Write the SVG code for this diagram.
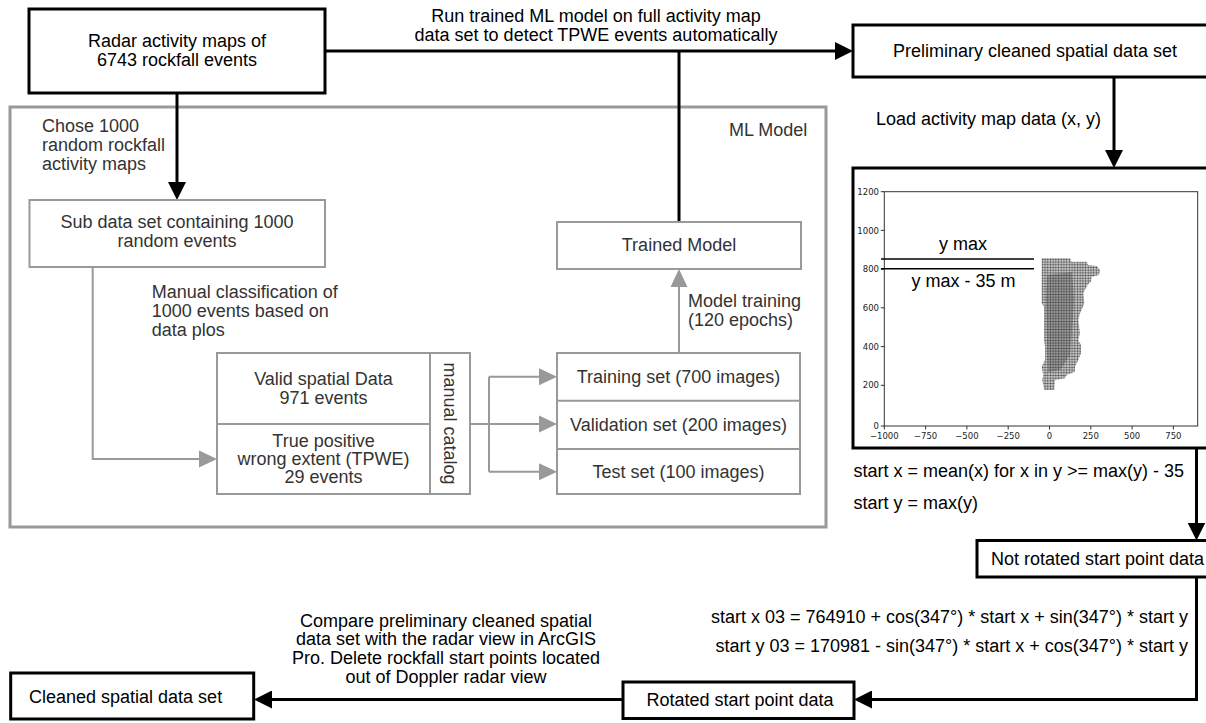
<svg xmlns="http://www.w3.org/2000/svg" width="1206" height="723" viewBox="0 0 1206 723">
<style>
  text { font-family: "Liberation Sans", Arial, sans-serif; font-size: 18px; fill: #000; }
  .g { fill: #333; }
  .bk { fill: #fff; stroke: #000; stroke-width: 3; }
  .gy { fill: #fff; stroke: #999; stroke-width: 2; }
  .cb { fill: none; stroke: #000; stroke-width: 3; }
  .cg { fill: none; stroke: #999; stroke-width: 2; }
  .tk { font-family: "DejaVu Sans", sans-serif; font-size: 8.5px; fill: #222; }
  .ax { fill: none; stroke: #333; stroke-width: 1; }
</style>
<defs>
  <marker id="ab" markerUnits="userSpaceOnUse" markerWidth="18" markerHeight="18" refX="14" refY="9" orient="auto">
    <path d="M0,0 L18,9 L0,18 z" fill="#000"/>
  </marker>
  <marker id="ag" markerUnits="userSpaceOnUse" markerWidth="18" markerHeight="18" refX="14" refY="9" orient="auto">
    <path d="M0,0.5 L18,9 L0,17.5 z" fill="#999"/>
  </marker>
  <pattern id="dots" patternUnits="userSpaceOnUse" x="1041" y="258" width="2.7" height="2.7">
    <rect width="2.7" height="2.7" fill="#d0d0d0"/>
    <circle cx="1.35" cy="1.35" r="0.95" fill="#3a3a3a"/>
  </pattern>
</defs>
<rect width="1206" height="723" fill="#fff"/>

<g id="ml-model">
  <rect x="10" y="107" width="816" height="420" fill="none" stroke="#999" stroke-width="3"/>
  <text x="729" y="136" class="g">ML Model</text>
</g>

<g id="connectors">
  <path class="cb" d="M325,51 H849" marker-end="url(#ab)"/>
  <path class="cb" d="M679,51 V222"/>
  <path class="cb" d="M177,93 V196" marker-end="url(#ab)"/>
  <path class="cg" d="M92.7,267 V459 H213" marker-end="url(#ag)"/>
  <path class="cg" d="M470,424 H489"/>
  <path class="cg" d="M489,376.7 V471.7"/>
  <path class="cg" d="M489,376.7 H553" marker-end="url(#ag)"/>
  <path class="cg" d="M489,424 H553" marker-end="url(#ag)"/>
  <path class="cg" d="M489,471.7 H553" marker-end="url(#ag)"/>
  <path class="cg" d="M679,353 V273" marker-end="url(#ag)"/>
  <path class="cb" d="M1114,77 V164" marker-end="url(#ab)"/>
  <path class="cb" d="M1196.5,448 V536.5" marker-end="url(#ab)"/>
  <path class="cb" d="M1196.5,577 V699.5 H858" marker-end="url(#ab)"/>
  <path class="cb" d="M623,699.5 H258" marker-end="url(#ab)"/>
</g>

<g id="labels">
  <text x="596" y="22.3" text-anchor="middle">Run trained ML model on full activity map</text>
  <text x="596" y="40.7" text-anchor="middle">data set to detect TPWE events automatically</text>
  <text x="42" y="131.7" class="g">Chose 1000</text>
  <text x="42" y="150.7" class="g">random rockfall</text>
  <text x="42" y="170" class="g">activity maps</text>
  <text x="151.7" y="298" class="g">Manual classification of</text>
  <text x="151.7" y="316.8" class="g">1000 events based on</text>
  <text x="151.7" y="335.7" class="g">data plos</text>
  <text x="688" y="307" class="g">Model training</text>
  <text x="688" y="326" class="g">(120 epochs)</text>
  <text x="876" y="125">Load activity map data (x, y)</text>
  <text x="853.5" y="477">start x = mean(x) for x in y &gt;= max(y) - 35</text>
  <text x="853.5" y="509">start y = max(y)</text>
  <text x="1188" y="623" text-anchor="end">start x 03 = 764910 + cos(347°) * start x + sin(347°) * start y</text>
  <text x="1188" y="652" text-anchor="end">start y 03 = 170981 - sin(347°) * start x + cos(347°) * start y</text>
  <text x="446" y="626.7" text-anchor="middle">Compare preliminary cleaned spatial</text>
  <text x="446" y="645.3" text-anchor="middle">data set with the radar view in ArcGIS</text>
  <text x="446" y="664" text-anchor="middle">Pro. Delete rockfall start points located</text>
  <text x="446" y="682.5" text-anchor="middle">out of Doppler radar view</text>
</g>

<g id="radar-maps">
  <rect class="bk" x="29" y="9" width="296" height="84"/>
  <text x="177" y="47.3" text-anchor="middle">Radar activity maps of</text>
  <text x="177" y="65.7" text-anchor="middle">6743 rockfall events</text>
</g>

<g id="sub-data-set">
  <rect class="gy" x="29.5" y="200" width="295.5" height="67"/>
  <text x="177" y="228" text-anchor="middle" class="g">Sub data set containing 1000</text>
  <text x="177" y="247" text-anchor="middle" class="g">random events</text>
</g>

<g id="manual-catalog">
  <rect class="gy" x="217" y="353" width="253" height="141"/>
  <line x1="430" y1="353" x2="430" y2="494" stroke="#999" stroke-width="2"/>
  <line x1="217" y1="424" x2="430" y2="424" stroke="#999" stroke-width="2"/>
  <text x="323.5" y="385" text-anchor="middle" class="g">Valid spatial Data</text>
  <text x="323.5" y="404" text-anchor="middle" class="g">971 events</text>
  <text x="323.5" y="446.7" text-anchor="middle" class="g">True positive</text>
  <text x="323.5" y="465" text-anchor="middle" class="g">wrong extent (TPWE)</text>
  <text x="323.5" y="483.3" text-anchor="middle" class="g">29 events</text>
  <text transform="translate(450,423.5) rotate(90)" text-anchor="middle" dominant-baseline="central" class="g">manual catalog</text>
</g>

<g id="data-splits">
  <rect class="gy" x="557" y="353" width="243" height="141"/>
  <line x1="557" y1="400.7" x2="800" y2="400.7" stroke="#999" stroke-width="2"/>
  <line x1="557" y1="449" x2="800" y2="449" stroke="#999" stroke-width="2"/>
  <text x="678.5" y="383" text-anchor="middle" class="g">Training set (700 images)</text>
  <text x="678.5" y="431" text-anchor="middle" class="g">Validation set (200 images)</text>
  <text x="678.5" y="478" text-anchor="middle" class="g">Test set (100 images)</text>
</g>

<g id="trained-model">
  <rect class="gy" x="557" y="222" width="244" height="47"/>
  <text x="679" y="251" text-anchor="middle" class="g">Trained Model</text>
</g>

<g id="preliminary">
  <rect class="bk" x="853" y="25" width="364" height="52"/>
  <text x="1035" y="57" text-anchor="middle">Preliminary cleaned spatial data set</text>
</g>

<g id="plot">
  <rect class="bk" x="853" y="168" width="370" height="280"/>
  <rect class="ax" x="884.3" y="191.7" width="313.4" height="234.3"/>
  <g stroke="#333" stroke-width="1">
    <line x1="880.8" y1="191.7" x2="884.3" y2="191.7"/>
    <line x1="880.8" y1="230.4" x2="884.3" y2="230.4"/>
    <line x1="880.8" y1="269.1" x2="884.3" y2="269.1"/>
    <line x1="880.8" y1="307.8" x2="884.3" y2="307.8"/>
    <line x1="880.8" y1="346.6" x2="884.3" y2="346.6"/>
    <line x1="880.8" y1="385.3" x2="884.3" y2="385.3"/>
    <line x1="880.8" y1="426" x2="884.3" y2="426"/>
    <line x1="884.3" y1="426" x2="884.3" y2="429.5"/>
    <line x1="925.6" y1="426" x2="925.6" y2="429.5"/>
    <line x1="966.9" y1="426" x2="966.9" y2="429.5"/>
    <line x1="1008.2" y1="426" x2="1008.2" y2="429.5"/>
    <line x1="1049.5" y1="426" x2="1049.5" y2="429.5"/>
    <line x1="1090.8" y1="426" x2="1090.8" y2="429.5"/>
    <line x1="1132.1" y1="426" x2="1132.1" y2="429.5"/>
    <line x1="1173.4" y1="426" x2="1173.4" y2="429.5"/>
  </g>
  <g text-anchor="end">
    <text x="879" y="194.8" class="tk">1200</text>
    <text x="879" y="233.5" class="tk">1000</text>
    <text x="879" y="272.2" class="tk">800</text>
    <text x="879" y="310.9" class="tk">600</text>
    <text x="879" y="349.7" class="tk">400</text>
    <text x="879" y="388.4" class="tk">200</text>
    <text x="879" y="429.1" class="tk">0</text>
  </g>
  <g text-anchor="middle">
    <text x="884.3" y="438.5" class="tk">−1000</text>
    <text x="925.6" y="438.5" class="tk">−750</text>
    <text x="966.9" y="438.5" class="tk">−500</text>
    <text x="1008.2" y="438.5" class="tk">−250</text>
    <text x="1049.5" y="438.5" class="tk">0</text>
    <text x="1090.8" y="438.5" class="tk">250</text>
    <text x="1132.1" y="438.5" class="tk">500</text>
    <text x="1173.4" y="438.5" class="tk">750</text>
  </g>
  <polygon fill="url(#dots)" points="1041.7,258.3 1070,258.3 1071.7,261.7 1086.7,261.7 1088.3,265 1096.7,266 1100,270 1099,275 1091.7,276.7 1091,281.7 1088.3,284 1085.7,288.3 1083.3,293.3 1084.3,303.3 1082.3,308.3 1080,313.3 1078.3,320 1080,333.3 1078.3,340 1081,345 1081,353.3 1078.3,360 1075,366.7 1075,371.7 1066.7,375 1065,378.3 1055,380 1054.3,390 1044.3,390 1042.3,380 1043.3,375 1041.7,366.7 1045,360 1045,346.7 1044,340 1044,306.7 1041.7,303.3"/>
  <polygon fill="#333" opacity="0.3" points="1047,275 1072,272 1074,300 1072,330 1070,355 1060,370 1048,372 1047,340 1046,300"/>
  <line x1="881" y1="259" x2="1034" y2="259" stroke="#000" stroke-width="1.5"/>
  <line x1="881" y1="268.7" x2="1034" y2="268.7" stroke="#000" stroke-width="1.5"/>
  <text x="963" y="250" text-anchor="middle">y max</text>
  <text x="963.5" y="286.7" text-anchor="middle">y max - 35 m</text>
</g>

<g id="not-rotated">
  <rect class="bk" x="977" y="540.5" width="245" height="36.5"/>
  <text x="991" y="564.5">Not rotated start point data</text>
</g>

<g id="rotated">
  <rect class="bk" x="623" y="682" width="231" height="36.5"/>
  <text x="740" y="705.5" text-anchor="middle">Rotated start point data</text>
</g>

<g id="cleaned">
  <rect class="bk" x="10.7" y="673" width="243" height="46"/>
  <text x="29" y="703">Cleaned spatial data set</text>
</g>
</svg>
